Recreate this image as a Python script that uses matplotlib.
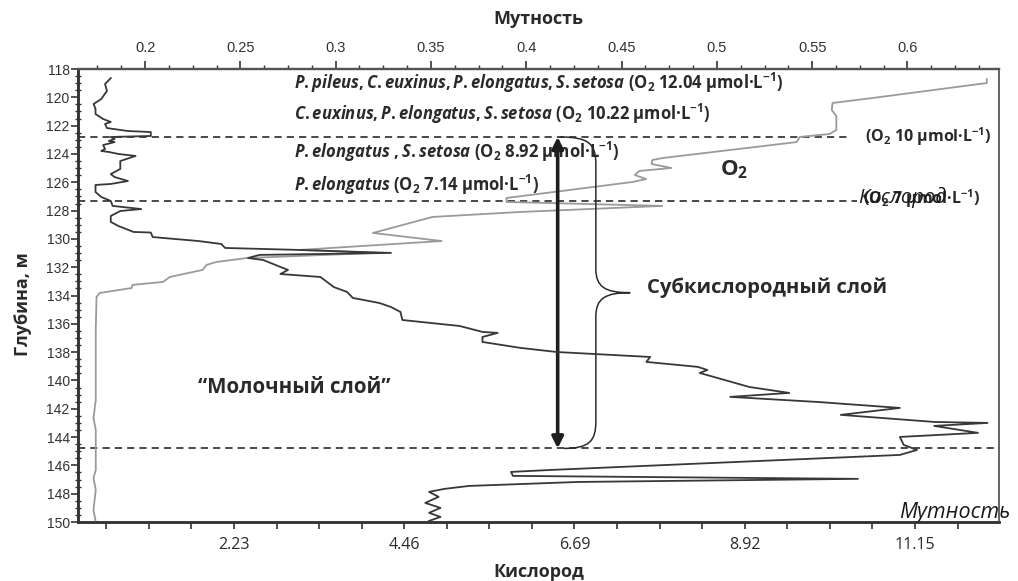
import matplotlib
matplotlib.use("Agg")
from matplotlib import pyplot as plt
from matplotlib.path import Path
from matplotlib.patches import PathPatch
from matplotlib.ticker import MultipleLocator, AutoMinorLocator

plt.rcParams['mathtext.fontset'] = 'custom'
plt.rcParams['mathtext.rm'] = 'Open Sans:bold'
plt.rcParams['mathtext.it'] = 'Open Sans:italic:bold'
plt.rcParams['mathtext.bf'] = 'Open Sans:bold'

# turbidity profile (top axis)
turb_depth = [118.64, 119.06, 119.55, 120.12, 120.47, 120.82, 121.18, 121.53, 121.74, 121.88,
              122.17, 122.38, 122.45, 122.73, 122.80, 122.94, 123.08, 123.16, 123.37, 123.65,
              123.79, 123.86, 124.00, 124.14, 124.50, 125.06, 125.42, 125.63, 125.91, 126.12,
              126.19, 126.69, 127.04, 127.32, 127.67, 127.89, 128.03, 128.24, 128.38, 128.80,
              129.09, 129.51, 129.55, 129.87, 130.15, 130.36, 130.64, 130.78, 130.99, 131.13,
              131.35, 131.49, 131.98, 132.19, 132.48, 132.69, 133.40, 133.75, 134.17, 134.53,
              134.81, 135.16, 135.73, 136.15, 136.57, 136.64, 136.93, 137.28, 137.70, 137.99,
              138.34, 138.69, 139.04, 139.26, 139.47, 140.46, 140.88, 141.16, 141.52, 141.94,
              142.43, 142.93, 143.00, 143.21, 143.70, 143.99, 144.55, 144.91, 145.26, 146.32,
              146.46, 146.74, 146.95, 147.17, 147.45, 147.66, 147.87, 148.22, 148.65, 149.00,
              149.35, 149.64, 149.92]
turb = [0.182, 0.179, 0.180, 0.177, 0.173, 0.174, 0.174, 0.178, 0.182, 0.179,
        0.180, 0.191, 0.203, 0.203, 0.182, 0.184, 0.181, 0.184, 0.178, 0.179,
        0.177, 0.181, 0.186, 0.195, 0.187, 0.187, 0.182, 0.184, 0.191, 0.182,
        0.174, 0.174, 0.177, 0.182, 0.183, 0.198, 0.187, 0.184, 0.182, 0.182,
        0.186, 0.194, 0.203, 0.204, 0.228, 0.240, 0.242, 0.281, 0.329, 0.260,
        0.254, 0.262, 0.271, 0.275, 0.271, 0.292, 0.299, 0.306, 0.309, 0.323,
        0.329, 0.334, 0.335, 0.365, 0.377, 0.385, 0.377, 0.377, 0.397, 0.416,
        0.465, 0.463, 0.490, 0.495, 0.491, 0.517, 0.538, 0.507, 0.553, 0.596,
        0.565, 0.614, 0.642, 0.614, 0.637, 0.596, 0.598, 0.605, 0.596, 0.413,
        0.392, 0.393, 0.574, 0.427, 0.370, 0.357, 0.349, 0.354, 0.347, 0.355,
        0.349, 0.355, 0.349]

# oxygen profile (bottom axis)
o2_depth = [118.71, 118.99, 120.05, 120.40, 120.90, 121.32, 122.31, 122.59, 122.80, 123.16,
            124.29, 124.43, 124.71, 124.99, 125.20, 125.49, 125.77, 125.98, 127.11, 127.39,
            127.67, 128.10, 128.45, 129.58, 130.15, 130.78, 130.99, 131.35, 131.63, 131.84,
            132.19, 132.69, 133.04, 133.25, 133.47, 133.82, 134.10, 136.43, 141.37, 142.65,
            143.49, 146.32, 146.88, 147.73, 149.14, 149.99]
o2 = [12.09, 12.09, 10.59, 10.07, 10.06, 10.12, 10.12, 10.03, 9.64, 9.60,
      7.84, 7.71, 7.70, 7.96, 7.54, 7.48, 7.63, 7.45, 5.80, 5.80,
      7.84, 5.97, 4.83, 4.05, 4.95, 3.09, 4.10, 2.40, 2.00, 1.87,
      1.82, 1.39, 1.30, 0.90, 0.89, 0.47, 0.43, 0.42, 0.42, 0.39,
      0.42, 0.42, 0.39, 0.42, 0.39, 0.42]

layer_depths = [122.8, 127.3, 144.8]
o2_ticks = [2.23, 4.46, 6.69, 8.92, 11.15]

species = [r"$\mathit{P.pileus,C.euxinus,P.elongatus,S.setosa}$ (O$_2$ 12.04 µmol·L$^{-1}$)",
           r"$\mathit{C.euxinus,P.elongatus,S.setosa}$ (O$_2$ 10.22 µmol·L$^{-1}$)",
           r"$\mathit{P.elongatus\ ,S.setosa}$ (O$_2$ 8.92 µmol·L$^{-1}$)",
           r"$\mathit{P.elongatus}$ (O$_2$ 7.14 µmol·L$^{-1}$)"]
species_y = [0.969, 0.901, 0.818, 0.743]

FONT = ['Open Sans', 'DejaVu Sans']
ARIAL = ['Liberation Sans', 'DejaVu Sans']
TXT = '#2a2a2a'

fig = plt.figure(figsize=(10.18, 5.81), dpi=100)
ax = fig.add_axes([0.0766, 0.1015, 0.9047, 0.7797])
ax2 = ax.twiny()

ax.plot(o2, o2_depth, color='#9a9a9a', lw=1.3, zorder=3)
ax2.plot(turb, turb_depth, color='#383838', lw=1.3, zorder=3)

ax.set_ylim(150, 118)
ax.set_xlim(0.187, 12.25)
ax2.set_xlim(0.1648, 0.648)

# layer boundaries
for d, xe in zip(layer_depths, [0.838, 0.846, 0.997]):
    ax.axhline(d, xmin=0, xmax=xe, color='#3a3a3a', lw=1.3, dashes=(4, 2.8), zorder=2)

# double arrow over the suboxic layer
top, bot = layer_depths[0], layer_depths[2]
xa = 6.47
ax.annotate('', xy=(xa, top), xytext=(xa, bot),
            arrowprops=dict(arrowstyle='<|-|>', lw=2.6, color='#1e1e1e',
                            mutation_scale=17, shrinkA=0, shrinkB=0), zorder=5)

# curly brace
mid = (top + bot) / 2
xs, xb, xt = 6.50, 6.97, 7.42
verts = [(xs, top), (xs + 0.38, top), (xb, top + 0.5), (xb, top + 1.9),
         (xb, mid - 1.7),
         (xb, mid - 0.4), (xb + 0.12, mid), (xt, mid),
         (xb + 0.12, mid), (xb, mid + 0.4), (xb, mid + 1.7),
         (xb, bot - 1.9),
         (xb, bot - 0.5), (xs + 0.38, bot), (xs + 0.05, bot)]
codes = [Path.MOVETO, Path.CURVE4, Path.CURVE4, Path.CURVE4,
         Path.LINETO,
         Path.CURVE4, Path.CURVE4, Path.CURVE4,
         Path.CURVE4, Path.CURVE4, Path.CURVE4,
         Path.LINETO,
         Path.CURVE4, Path.CURVE4, Path.CURVE4]
ax.add_patch(PathPatch(Path(verts, codes), fill=False, lw=1.1, edgecolor='#2a2a2a', zorder=4))

# annotations
for s, y in zip(species, species_y):
    ax.text(0.2345, y, s, transform=ax.transAxes, ha='left', va='center',
            fontsize=12, family=FONT, weight='bold', color=TXT)
ax.text(0.8545, 0.850, "(O$_2$ 10 µmol·L$^{-1}$)", transform=ax.transAxes, ha='left', va='center',
        fontsize=11.5, family=FONT, weight='bold', color=TXT)
ax.text(0.852, 0.713, "(O$_2$ 7 µmol·L$^{-1}$)", transform=ax.transAxes, ha='left', va='center',
        fontsize=11.5, family=FONT, weight='bold', color=TXT)
ax.text(0.847, 0.717, "Кислород", transform=ax.transAxes, ha='left', va='center',
        fontsize=14.5, family=FONT, style='italic', color='#1a1a1a')
ax.text(0.713, 0.777, "O$_2$", transform=ax.transAxes, ha='center', va='center',
        fontsize=16, family=FONT, weight='bold', color=TXT)
ax.text(0.618, 0.517, "Субкислородный слой", transform=ax.transAxes, ha='left', va='center',
        fontsize=14.6, family=FONT, weight='bold', color=TXT)
ax.text(0.130, 0.296, "“Молочный слой”", transform=ax.transAxes, ha='left', va='center',
        fontsize=14.8, family=FONT, weight='bold', color=TXT)
ax.text(0.8915, 0.022, "Мутность", transform=ax.transAxes, ha='left', va='center',
        fontsize=15.5, family=FONT, style='italic', color='#1a1a1a', clip_on=False, zorder=6)

# axes styling
ax.set_xticks(o2_ticks)
ax.set_xticklabels([f"{v:.2f}" for v in o2_ticks], family=FONT, fontsize=11.5, color=TXT)
ax.xaxis.set_minor_locator(AutoMinorLocator(4))
ax.yaxis.set_major_locator(MultipleLocator(2))
ax.yaxis.set_minor_locator(MultipleLocator(0.5))
for lab in ax.get_yticklabels():
    lab.set_family(ARIAL)
ax.tick_params(axis='x', which='both', direction='out', length=5, width=1.2, pad=6, colors='#333333')
ax.tick_params(axis='x', labelcolor=TXT)
ax.tick_params(axis='y', which='major', direction='out', length=5, width=1.2, labelsize=10, pad=1, colors='#333333')
ax.tick_params(axis='y', which='minor', direction='inout', length=5, width=1.0, colors='#333333')
ax.tick_params(axis='y', labelcolor='#333333')

ax2.xaxis.set_major_locator(MultipleLocator(0.05))
ax2.xaxis.set_minor_locator(AutoMinorLocator(4))
ax2.xaxis.set_major_formatter(plt.FuncFormatter(lambda v, p: f"{v:g}"))
ax2.tick_params(axis='x', which='major', direction='out', length=6, width=1.2, labelsize=10.5, pad=4, colors='#333333')
ax2.tick_params(axis='x', which='minor', direction='out', length=3, width=1.0, colors='#333333')
for lab in ax2.get_xticklabels():
    lab.set_family(ARIAL)

for a in (ax, ax2):
    a.spines['left'].set_linewidth(1.8)
    a.spines['bottom'].set_linewidth(1.8)
    a.spines['top'].set_linewidth(1.6)
    a.spines['right'].set_linewidth(1.4)
    a.spines['left'].set_color('#333333')
    a.spines['bottom'].set_color('#333333')
    a.spines['top'].set_color('#555555')
    a.spines['right'].set_color('#666666')

ax.set_xlabel("Кислород", family=FONT, weight='bold', fontsize=13, color=TXT, labelpad=7)
ax2.set_xlabel("Мутность", family=FONT, weight='bold', fontsize=13, color=TXT, labelpad=12)
ax.set_ylabel("Глубина, м", family=FONT, weight='bold', fontsize=13, color=TXT)
ax.yaxis.set_label_coords(-0.05, 0.48)

fig.savefig("out.png", dpi=100)
